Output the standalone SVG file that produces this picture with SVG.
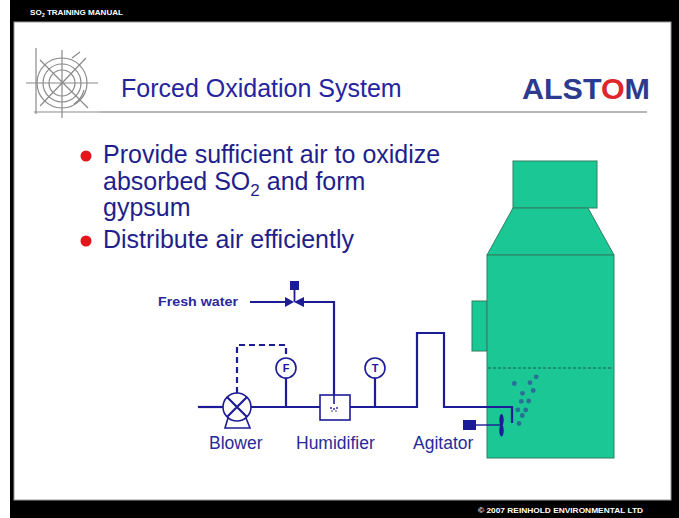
<svg xmlns="http://www.w3.org/2000/svg" width="679" height="518" viewBox="0 0 679 518">
  <style>
    .pipe { fill: none; stroke: #1c1c96; stroke-width: 2.2; }
    .thin { fill: none; stroke: #1c1c96; stroke-width: 1.4; }
    .inst { fill: #ffffff; stroke: #1c1c96; stroke-width: 1.6; }
    .inst-txt { font-family: "Liberation Sans", Arial, sans-serif; font-weight: bold; font-size: 11px; fill: #1c1c96; text-anchor: middle; }
    .label { font-family: "Liberation Sans", Arial, sans-serif; font-size: 17.5px; fill: #2a2a9a; }
    .bullet { font-family: "Liberation Sans", Arial, sans-serif; font-size: 25px; fill: #1f1f8c; }
    .body { fill: #1bc794; stroke: #2f8062; stroke-width: 1; }
    .bubble { fill: #2a6f96; }
    .band { font-family: "Liberation Sans", Arial, sans-serif; font-weight: bold; font-size: 7.5px; fill: #ffffff; }
    .logo { fill: none; stroke: #8a8a8a; stroke-width: 1.2; }
  </style>

  <!-- slide frame -->
  <rect x="0" y="0" width="679" height="518" fill="#ffffff"/>
  <rect x="10" y="0" width="669" height="518" fill="#000000"/>
  <rect x="14" y="22" width="657" height="478" fill="#ffffff" stroke="#9a9a9a" stroke-width="1"/>
  <text class="band" x="30" y="15" textLength="93" lengthAdjust="spacingAndGlyphs">SO<tspan font-size="5" dy="1.5">2</tspan><tspan dy="-1.5"> TRAINING MANUAL</tspan></text>
  <text class="band" x="478" y="513" textLength="165" lengthAdjust="spacingAndGlyphs">© 2007 REINHOLD ENVIRONMENTAL LTD</text>

  <!-- header emblem -->
  <g id="emblem">
    <circle class="logo" cx="62" cy="83" r="25" stroke-width="2"/>
    <circle class="logo" cx="62" cy="83" r="19"/>
    <circle class="logo" cx="62" cy="83" r="13" stroke-width="2"/>
    <path class="logo" d="M40 60 L88 108 M86 58 L40 106 M36 48 V114 M34 112 H100 M26 83 H98 M62 50 V118"/>
    <path class="logo" d="M72 58 L80 52 M84 90 A23 23 0 0 1 74 104" stroke-width="2.5"/>
  </g>
  <line x1="100" y1="112" x2="647" y2="112" stroke="#707070" stroke-width="1.2"/>

  <text x="121" y="97" font-family="Liberation Sans, Arial, sans-serif" font-size="25" fill="#2424a0">Forced Oxidation System</text>
  <text x="522" y="99" font-family="Liberation Sans, Arial, sans-serif" font-size="30" font-weight="bold" fill="#2d3b8e" textLength="128" lengthAdjust="spacingAndGlyphs">ALST<tspan fill="#e0262b">O</tspan>M</text>

  <!-- bullet list -->
  <circle cx="86" cy="156" r="5.5" fill="#e4161c"/>
  <circle cx="86" cy="241" r="5.5" fill="#e4161c"/>
  <text class="bullet" x="103" y="163">Provide sufficient air to oxidize</text>
  <text class="bullet" x="103" y="190">absorbed SO<tspan font-size="17" dy="6">2</tspan><tspan dy="-6"> and form</tspan></text>
  <text class="bullet" x="103" y="216">gypsum</text>
  <text class="bullet" x="103" y="248">Distribute air efficiently</text>

  <!-- absorber tower -->
  <g id="tower">
    <rect class="body" x="513" y="161" width="84" height="47"/>
    <polygon class="body" points="513,208 588,208 614,255 487,255"/>
    <rect class="body" x="472" y="301" width="15" height="50"/>
    <rect class="body" x="487" y="255" width="127" height="203"/>
    <line x1="488" y1="368" x2="613" y2="368" stroke="#1f5a48" stroke-width="1" stroke-dasharray="3,2"/>
    <g id="bubbles">
      <circle class="bubble" cx="514.3" cy="383.5" r="2.4"/>
      <circle class="bubble" cx="530" cy="382.7" r="2.4"/>
      <circle class="bubble" cx="536.2" cy="376.8" r="2.4"/>
      <circle class="bubble" cx="533.2" cy="390.5" r="2.4"/>
      <circle class="bubble" cx="522.5" cy="393.3" r="2.4"/>
      <circle class="bubble" cx="521.3" cy="401.3" r="2.4"/>
      <circle class="bubble" cx="528.7" cy="401" r="2.4"/>
      <circle class="bubble" cx="517.8" cy="409.8" r="2.4"/>
      <circle class="bubble" cx="525.7" cy="410" r="2.4"/>
      <circle class="bubble" cx="522.3" cy="415.5" r="2.4"/>
      <circle class="bubble" cx="519" cy="423.5" r="2.4"/>
    </g>
  </g>

  <!-- piping -->
  <g id="connectors">
    <path class="pipe" d="M198 407 H223"/>
    <path class="pipe" d="M251 407 H320"/>
    <path class="pipe" d="M350 407 H417 V333 H444 V407 H512 V423"/>
    <path class="pipe" d="M250 302 H285"/>
    <path class="pipe" d="M304 302 H334 V404"/>
    <path class="pipe" d="M286 378 V407"/>
    <path class="pipe" d="M375 378 V407"/>
    <path class="pipe" d="M237 393 V345 H286 V358" stroke-dasharray="6,4"/>
    <path class="thin" d="M476 425 H501"/>
  </g>

  <!-- blower -->
  <g id="blower">
    <path class="inst" d="M228 418 L225 428 H250 L246 418 Z"/>
    <circle class="inst" cx="237" cy="407" r="14" stroke-width="2.2"/>
    <path class="pipe" d="M227 397 L247 417 M247 397 L227 417"/>
    <text class="label" x="209" y="449">Blower</text>
  </g>

  <!-- flow indicator -->
  <g id="flow-indicator">
    <circle class="inst" cx="286" cy="368" r="10"/>
    <text class="inst-txt" x="286" y="372">F</text>
  </g>

  <!-- temperature indicator -->
  <g id="temp-indicator">
    <circle class="inst" cx="375" cy="368" r="10"/>
    <text class="inst-txt" x="375" y="372">T</text>
  </g>

  <!-- fresh water valve -->
  <g id="valve">
    <polygon points="285,297 294,302 285,307" fill="#1c1c96"/>
    <polygon points="304,297 294,302 304,307" fill="#1c1c96"/>
    <line x1="294.5" y1="290" x2="294.5" y2="302" stroke="#1c1c96" stroke-width="1.8"/>
    <rect x="290" y="281" width="9" height="9" fill="#1c1c96"/>
    <text x="158" y="306" font-family="Liberation Sans, Arial, sans-serif" font-size="13.5" font-weight="bold" fill="#2a2a9a" textLength="80" lengthAdjust="spacingAndGlyphs">Fresh water</text>
  </g>

  <!-- humidifier -->
  <g id="humidifier">
    <rect class="inst" x="320" y="395" width="30" height="25" stroke-width="2"/>
    <line x1="334" y1="395" x2="334" y2="404" stroke="#1c1c96" stroke-width="1.6"/>
    <circle cx="331" cy="408" r="0.9" fill="#1c1c96"/>
    <circle cx="334" cy="409" r="0.9" fill="#1c1c96"/>
    <circle cx="337" cy="408" r="0.9" fill="#1c1c96"/>
    <circle cx="332" cy="411" r="0.8" fill="#1c1c96"/>
    <circle cx="336" cy="411" r="0.8" fill="#1c1c96"/>
    <text class="label" x="296" y="449">Humidifier</text>
  </g>

  <!-- agitator -->
  <g id="agitator">
    <rect x="463" y="420" width="13" height="10" fill="#1c1c96"/>
    <ellipse cx="501.5" cy="420" rx="2.2" ry="6" fill="#1c1c96"/>
    <ellipse cx="501.5" cy="430.5" rx="2.2" ry="6" fill="#1c1c96"/>
    <text class="label" x="413" y="449">Agitator</text>
  </g>
</svg>
